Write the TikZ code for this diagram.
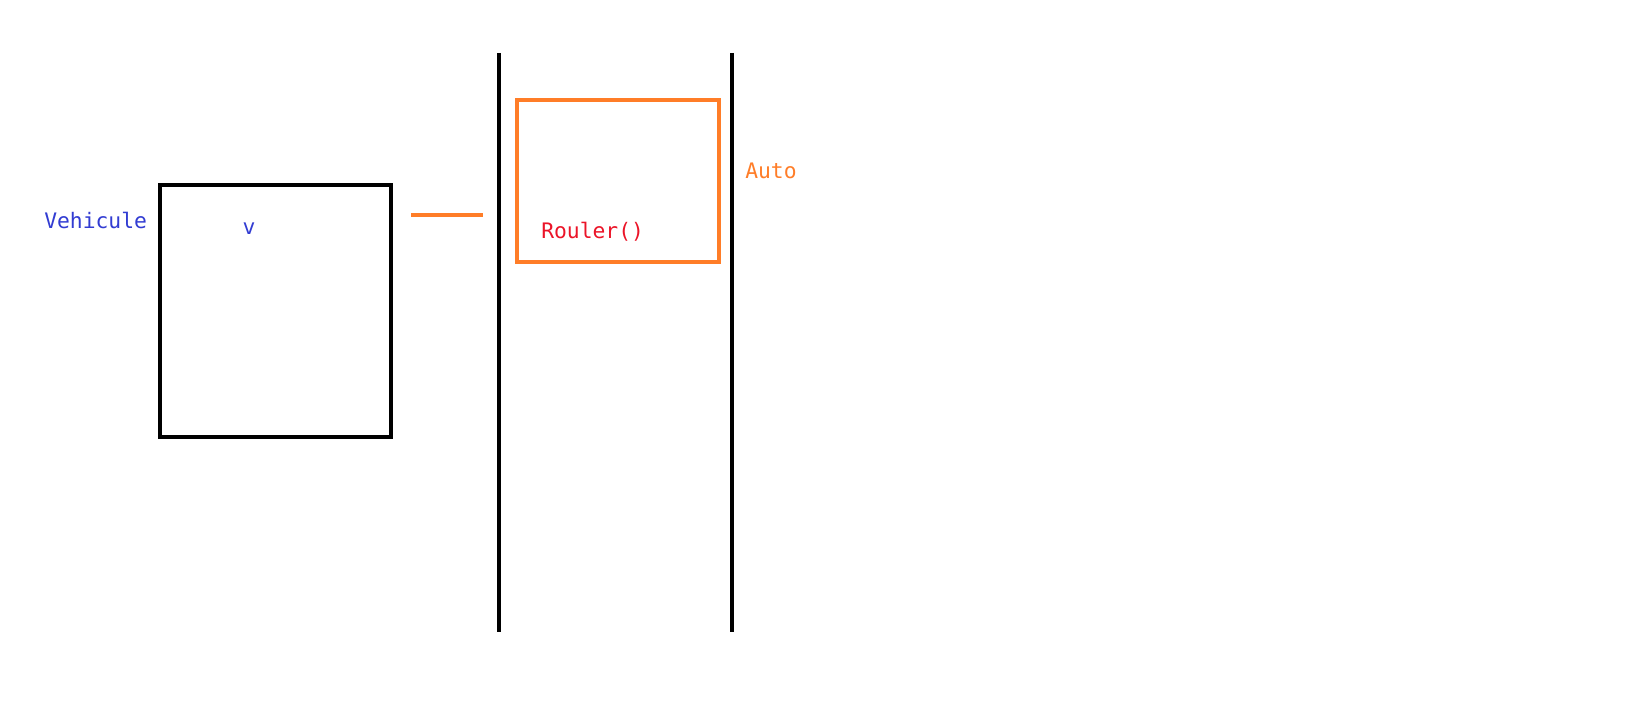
\documentclass[tikz,border=0pt]{standalone}
\usepackage{fontspec}
\setmonofont{DejaVu Sans Mono}
\usepackage{xcolor}
\usetikzlibrary{positioning}
\definecolor{bleu}{RGB}{50,60,210}
\definecolor{orange}{RGB}{255,125,40}
\definecolor{rouge}{RGB}{235,20,40}
\tikzset{
    texte/.style={font=\ttfamily\fontsize{16}{18}\selectfont, inner sep=0pt, anchor=west},
    trait/.style={line width=2.4pt}
}

\begin{document}
\begin{tikzpicture}[x=0.75pt, y=-0.75pt]
        \useasboundingbox (0,0) rectangle (1630,712);

        % Classe Vehicule
        \draw[trait] (160,185) rectangle (391,437);
        \node[texte, text=bleu] (vehicule) at (44,220) {Vehicule};
        \node[texte, text=bleu, anchor=center] (v) at (249,229) {v};

        % Trait orange
        \coordinate (g) at (411,215);
        \coordinate (d) at (483,215);
        \draw[trait, orange] (g) -- (d);

        % Lignes verticales
        \draw[trait] (499,53) -- (499,632);
        \draw[trait] (732,53) -- (732,632);

        % Methode Rouler
        \draw[trait, orange] (517,100) rectangle (719,262);
        \node[texte, text=rouge] (rouler) at (541,232) {Rouler()};
        \node[texte, text=orange] (auto) at (745,171) {Auto};
    \end{tikzpicture}
\end{document}
